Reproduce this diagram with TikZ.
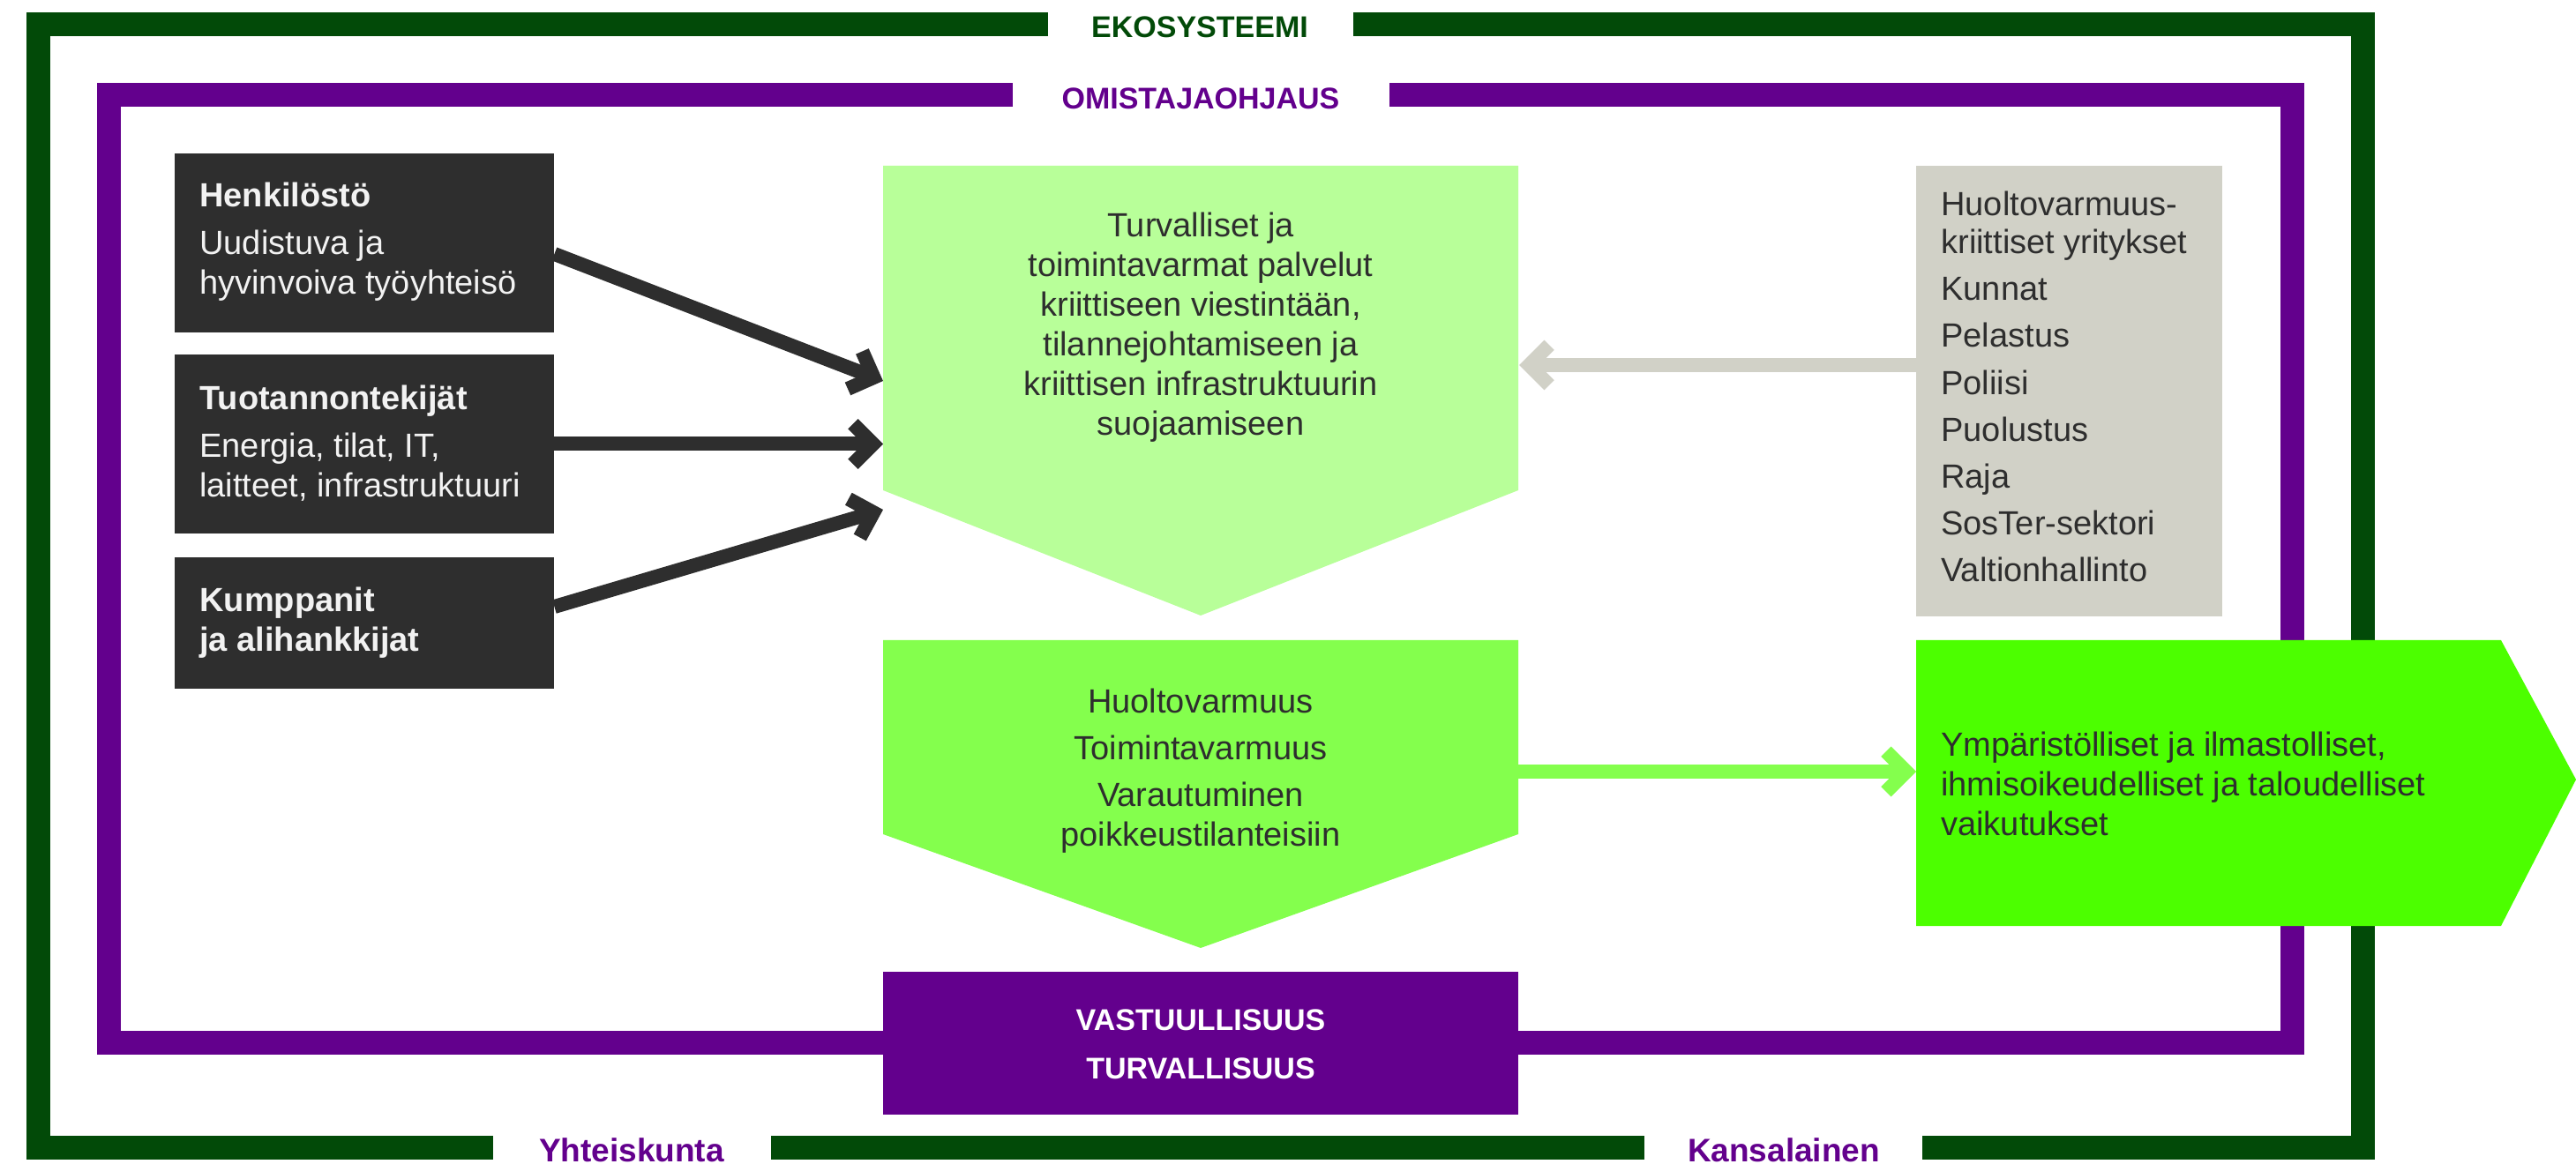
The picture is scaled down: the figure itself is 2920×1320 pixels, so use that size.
\documentclass[tikz,border=0pt]{standalone}
\usepackage{fontspec}
\setmainfont{Liberation Sans}
\usetikzlibrary{arrows.meta,calc}
\definecolor{ekogreen}{HTML}{024A08}
\definecolor{ownpurple}{HTML}{63008D}
\definecolor{darkbox}{HTML}{2E2E2E}
\definecolor{palegreen}{HTML}{B8FF99}
\definecolor{midgreen}{HTML}{84FF4D}
\definecolor{brightgreen}{HTML}{4CFF00}
\definecolor{graybox}{HTML}{D1D1C7}
\definecolor{inktext}{HTML}{2E2E2E}
\definecolor{whitetext}{HTML}{F2F2F2}
\newcommand\bodyfont{\fontsize{19}{22.5}\selectfont}
\newcommand\listfont{\fontsize{19}{21.5}\selectfont}
\newcommand\headfont{\fontsize{17}{27.5}\selectfont\bfseries}
\tikzset{
  frameline/.style={line width=13.5pt, line join=miter, line cap=butt},
  darkrect/.style={fill=darkbox, draw=none, minimum width=215pt, inner sep=0pt},
  bodytext/.style={font=\bodyfont, text=inktext, inner sep=0pt},
  boxtext/.style={font=\bodyfont, text=whitetext, inner sep=0pt, align=left, anchor=base west},
  flow/.style={line width=8pt, -{Straight Barb[length=11.4pt,width=22.8pt]}},
  framelabel/.style={font=\headfont, inner sep=0pt, anchor=base},
}
\begin{document}
\begin{tikzpicture}[x=0.5pt,y=-0.5pt]
\path[use as bounding box] (0,0) rectangle (2920,1320);
% frames
\draw[frameline, ekogreen] (1188,27.5) -- (43.5,27.5) -- (43.5,1301.5) -- (559,1301.5);
\draw[frameline, ekogreen] (874,1301.5) -- (1864,1301.5);
\draw[frameline, ekogreen] (2179,1301.5) -- (2678.5,1301.5) -- (2678.5,27.5) -- (1534,27.5);
\draw[frameline, ownpurple] (1148,107.5) -- (123.5,107.5) -- (123.5,1182.5) -- (2598.5,1182.5) -- (2598.5,107.5) -- (1575,107.5);
\node[framelabel, text=ekogreen] (eko) at (1360,43) {EKOSYSTEEMI};
\node[framelabel, text=ownpurple] (omi) at (1361,124) {OMISTAJAOHJAUS};
\node[framelabel, text=ownpurple, font=\fontsize{18.5}{22}\selectfont\bfseries] (yht) at (716,1317) {Yhteiskunta};
\node[framelabel, text=ownpurple, font=\fontsize{18.5}{22}\selectfont\bfseries] (kan) at (2022,1317) {Kansalainen};
% shapes
\fill[palegreen] (1001,188) -- (1721,188) -- (1721,556) -- (1361,698) -- (1001,556) -- cycle;
\fill[midgreen] (1001,726) -- (1721,726) -- (1721,946) -- (1361,1075) -- (1001,946) -- cycle;
\fill[brightgreen] (2172,726) -- (2835,726) -- (2920,884) -- (2835,1050) -- (2172,1050) -- cycle;
\node[darkrect, minimum height=101.5pt] (hen) at (413,275.5) {};
\node[darkrect, minimum height=101.5pt] (tuo) at (413,503.5) {};
\node[darkrect, minimum height=74.5pt] (kum) at (413,706.5) {};
\node[fill=graybox, minimum width=173.5pt, minimum height=255.5pt, inner sep=0pt] (gry) at (2345.5,443.5) {};
\node[fill=ownpurple, minimum width=360pt, minimum height=81pt, inner sep=0pt] (vas) at (1361,1183) {};
% texts (anchor = baseline of last line)
\node[boxtext] (hent) at (226,334) {\textbf{Henkilöstö}\\[4.5pt]Uudistuva ja\\hyvinvoiva työyhteisö};
\node[boxtext] (tuot) at (226,564) {\textbf{Tuotannontekijät}\\[4.5pt]Energia, tilat, IT,\\laitteet, infrastruktuuri};
\node[boxtext] (kumt) at (226,739) {\textbf{Kumppanit}\\\textbf{ja alihankkijat}};
\node[bodytext, align=center, anchor=base] (pal) at (1361,494) {Turvalliset ja\\toimintavarmat palvelut\\kriittiseen viestintään,\\tilannejohtamiseen ja\\kriittisen infrastruktuurin\\suojaamiseen};
\node[bodytext, align=center, anchor=base] (huo) at (1361,959) {Huoltovarmuus\\[4pt]Toimintavarmuus\\[4pt]Varautuminen\\poikkeustilanteisiin};
\node[bodytext, font=\listfont, align=left, anchor=base west] (grt) at (2200,660) {Huoltovarmuus-\\kriittiset yritykset\\[5.1pt]Kunnat\\[5.1pt]Pelastus\\[5.1pt]Poliisi\\[5.1pt]Puolustus\\[5.1pt]Raja\\[5.1pt]SosTer-sektori\\[5.1pt]Valtionhallinto};
\node[bodytext, align=left, anchor=base west] (vai) at (2200,947) {Ympäristölliset ja ilmastolliset,\\ihmisoikeudelliset ja taloudelliset\\vaikutukset};
\node[framelabel, text=white, align=center] (vast) at (1361,1223) {VASTUULLISUUS\\TURVALLISUUS};
% arrow targets
\coordinate (t1) at (1001,432);
\coordinate (t2) at (1001,503.5);
\coordinate (t3) at (1001,578);
\coordinate (t4) at (1722,414);
\coordinate (s5) at (1721,875);
\coordinate (t5) at (2172,875);
% arrows
\draw[flow, darkbox] ($(hen.east)+(0,12.5)$) -- (t1);
\draw[flow, darkbox] (tuo.east) -- (t2);
\draw[flow, darkbox] ($(kum.east)+(0,-18.5)$) -- (t3);
\draw[flow, graybox] ($(gry.west)+(0,-29.5)$) -- (t4);
\draw[flow, midgreen] (s5) -- (t5);
\end{tikzpicture}
\end{document}
